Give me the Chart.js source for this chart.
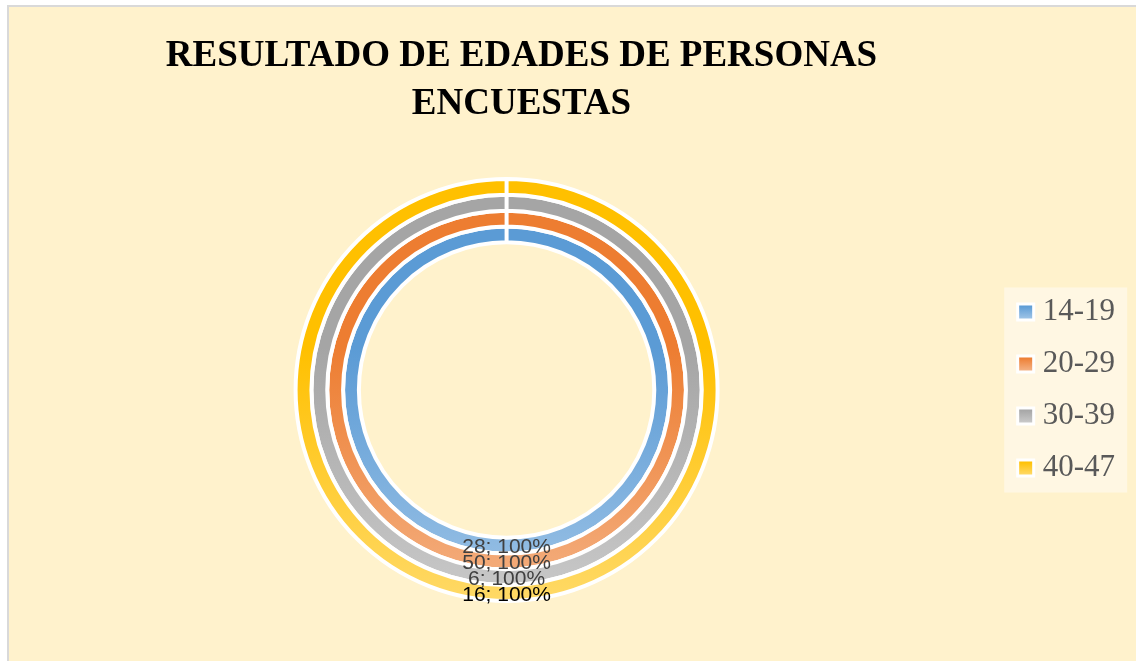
<!DOCTYPE html>
<html>
<head>
<meta charset="utf-8">
<script src="https://cdn.jsdelivr.net/npm/chart.js@4"></script>
<style>
  body { margin: 0; background: #ffffff; }
  #frame {
    position: absolute; left: 7px; top: 5px; width: 1127px; height: 654px;
    border-left: 2px solid #d9d9d9; border-top: 2px solid #d9d9d9;
    background: #FFF2CC;
  }
  #title {
    position: absolute; left: 0; top: 30px; width: 1043px;
    text-align: center; font: bold 37px "Liberation Serif", serif;
    line-height: 48px; color: #000000;
  }
  #chartBox { position: absolute; left: 0; top: 0; width: 1127px; height: 654px; }
</style>
</head>
<body>
<div id="frame">
  <div id="chartBox"><canvas id="ageChart"></canvas></div>
</div>
<div id="title">RESULTADO DE EDADES DE PERSONAS<br>ENCUESTAS</div>
<script>
const categories = ["14-19", "20-29", "30-39", "40-47"];
const values = [28, 50, 6, 16];
const topColors = ["#5B9BD5", "#ED7D31", "#A5A5A5", "#FFC000"];
const bottomColors = ["#9DC3E6", "#F4B183", "#C9C9C9", "#FFD966"];
const labelColors = ["#404040", "#404040", "#404040", "#000000"];

const RADIUS = 211;
const LEGEND_FONT = 31;

// gradient fill: saturated at the top, lighter towards the bottom
function ringFill(i) {
  return function (ctx) {
    const chart = ctx.chart;
    const area = chart.chartArea;
    if (!area) return topColors[i];
    const cy = (area.top + area.bottom) / 2;
    const g = chart.ctx.createLinearGradient(0, cy - RADIUS, 0, cy + RADIUS);
    g.addColorStop(0, topColors[i]);
    g.addColorStop(0.4, topColors[i]);
    g.addColorStop(1, bottomColors[i]);
    return g;
  };
}

// first dataset is the outer ring, so build them reversed
const datasets = categories.map(function (c, i) {
  return {
    label: c,
    data: [values[i]],
    backgroundColor: ringFill(i),
    borderColor: "#ffffff",
    borderWidth: 4
  };
}).reverse();

// light panel behind the legend + square markers with a white rim
const legendBox = {
  id: "legendBox",
  beforeDraw(chart) {
    const lg = chart.legend;
    if (!lg || !lg.legendHitBoxes.length) return;
    const boxes = lg.legendHitBoxes;
    const first = boxes[0];
    const last = boxes[boxes.length - 1];
    const ctx = chart.ctx;
    ctx.save();
    ctx.fillStyle = "#FFF7E3";
    const top = first.top - 9;
    const bottom = last.top + last.height + 9;
    ctx.fillRect(lg.left + 6, top, 123, bottom - top);
    ctx.restore();
  },
  afterDraw(chart) {
    const lg = chart.legend;
    if (!lg) return;
    const ctx = chart.ctx;
    ctx.save();
    lg.legendHitBoxes.forEach(function (hb, i) {
      const x = hb.left;
      const y = hb.top + (LEGEND_FONT - 13) / 2;
      ctx.fillStyle = "#ffffff";
      ctx.fillRect(x - 3, y - 3, 19, 19);
      const g = ctx.createLinearGradient(0, y, 0, y + 13);
      g.addColorStop(0, topColors[i]);
      g.addColorStop(1, bottomColors[i]);
      ctx.fillStyle = g;
      ctx.fillRect(x, y, 13, 13);
    });
    ctx.restore();
  }
};

const ringLabels = {
  id: "ringLabels",
  afterDatasetsDraw(chart) {
    const ctx = chart.ctx;
    ctx.save();
    ctx.font = "21px 'Liberation Sans', sans-serif";
    ctx.textAlign = "center";
    ctx.textBaseline = "middle";
    chart.data.datasets.forEach(function (ds, di) {
      const catIndex = categories.length - 1 - di;
      const meta = chart.getDatasetMeta(di);
      const total = ds.data.reduce(function (a, b) { return a + b; }, 0);
      meta.data.forEach(function (arc, j) {
        const pos = arc.tooltipPosition();
        const pct = Math.round(ds.data[j] / total * 100);
        ctx.fillStyle = labelColors[catIndex];
        ctx.fillText(ds.data[j] + "; " + pct + "%", pos.x, pos.y + 2);
      });
    });
    ctx.restore();
  }
};

const chartInstance = new Chart(document.getElementById("ageChart").getContext("2d"), {
  type: "doughnut",
  data: {
    labels: ["Total"],
    datasets: datasets
  },
  options: {
    responsive: true,
    maintainAspectRatio: false,
    animation: false,
    radius: RADIUS,
    cutout: "70%",
    layout: { padding: { top: 125, bottom: 13, left: 6, right: 11 } },
    plugins: {
      tooltip: { enabled: false },
      title: { display: false },
      legend: {
        position: "right",
        onClick: null,
        labels: {
          boxWidth: 8,
          boxHeight: 13,
          padding: 21,
          color: "#595959",
          font: { family: "'Liberation Serif', serif", size: LEGEND_FONT },
          generateLabels: function () {
            return categories.map(function (c, i) {
              return {
                text: c,
                fillStyle: "rgba(0,0,0,0)",
                strokeStyle: "rgba(0,0,0,0)",
                lineWidth: 0,
                fontColor: "#595959",
                hidden: false,
                index: i
              };
            });
          }
        }
      }
    }
  },
  plugins: [legendBox, ringLabels]
});
</script>
</body>
</html>
